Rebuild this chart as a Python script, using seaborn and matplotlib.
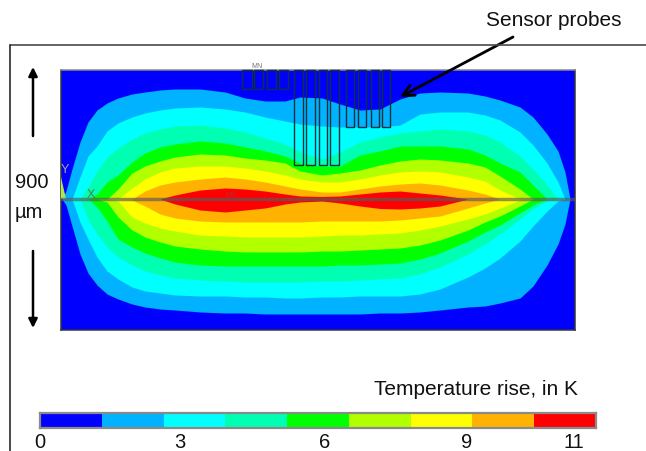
import matplotlib
matplotlib.use("Agg")
import matplotlib.pyplot as plt
import seaborn as sns
from matplotlib.colors import ListedColormap
from matplotlib.lines import Line2D

W, H = 646, 452

# isotherm positions, height above / below the centre line
STATIONS = [62, 66, 72, 80, 88, 97, 107, 118, 132, 145, 160, 175, 200, 225, 245, 265, 285, 300,
            322, 340, 360, 380, 400, 420, 440, 468, 485, 500, 520, 533, 547, 558, 565, 570, 574]

TOP_1 = [0, 8, 30, 57, 77, 89, 96, 101, 105, 107, 109, 110, 110, 107, 101, 98, 98, 102,
         101, 95, 89, 90, 100, 106, 107, 106, 103, 99, 92, 82, 65, 48, 27, 0, 0]
TOP_2 = [0, 0, 0, 22, 43, 53, 68, 76, 82, 86, 89, 91, 92, 90, 87, 82, 78, 75,
         73, 72, 72, 72, 74, 85, 87, 87, 84, 79, 67, 54, 36, 17, 0, 0, 0]
TOP_3 = [0, 0, 0, 0, 12, 28, 42, 51, 60, 66, 70, 73, 74, 71, 67, 61, 55, 47,
         40, 47, 57, 62, 66, 68, 70, 68, 64, 57, 43, 30, 14, 0, 0, 0, 0]
TOP_4 = [0, 0, 0, 0, 0, 5, 17, 24, 37, 46, 52, 55, 58, 56, 52, 48, 43, 36,
         33, 33, 44, 48, 53, 53, 53, 50, 44, 36, 27, 14, 0, 0, 0, 0, 0]
TOP_5 = [0, 0, 0, 0, 0, 0, 0, 10, 26, 33, 38, 42, 45, 44, 41, 39, 36, 28,
         24, 26, 29, 34, 38, 40, 39, 36, 32, 23, 10, 0, 0, 0, 0, 0, 0]
TOP_6 = [0, 0, 0, 0, 0, 0, 0, 0, 11, 20, 27, 31, 33, 33, 31, 28, 24, 20,
         17, 17, 20, 24, 27, 28, 27, 22, 18, 9, 0, 0, 0, 0, 0, 0, 0]
TOP_7 = [0, 0, 0, 0, 0, 0, 0, 0, 0, 8, 14, 17, 20, 22, 20, 17, 13, 10,
         7, 7, 10, 13, 15, 16, 14, 9, 5, 0, 0, 0, 0, 0, 0, 0, 0]
TOP_8 = [0, 0, 0, 0, 0, 0, 0, 0, 0, 0, 0, 4, 9, 11, 10, 8, 5, 3,
         2.5, 3, 5, 7, 8, 6, 4, 0, 0, 0, 0, 0, 0, 0, 0, 0, 0]

BOTTOM_1 = [0, 6, 27, 55, 74, 86, 95, 100, 105, 108, 110, 111, 113, 114, 114, 115, 115, 115,
            115, 115, 115, 114, 114, 113, 111, 108, 107, 104, 99, 87, 66, 45, 25, 0, 0]
BOTTOM_2 = [0, 0, 0, 23, 40, 58, 72, 80, 88, 92, 94, 96, 97, 97, 98, 98, 99, 99,
            98, 98, 97, 97, 97, 95, 90, 78, 69, 59, 42, 27, 12, 2, 0, 0, 0]
BOTTOM_3 = [0, 0, 0, 0, 20, 35, 48, 58, 66, 72, 76, 79, 81, 82, 83, 83, 83, 83,
            82, 82, 81, 80, 79, 75, 68, 55, 45, 35, 20, 10, 2, 0, 0, 0, 0]
BOTTOM_4 = [0, 0, 0, 0, 0, 8, 22, 40, 48, 54, 59, 63, 66, 67, 67, 67, 67, 67,
            67, 66, 66, 65, 64, 60, 54, 42, 33, 26, 14, 6, 0, 0, 0, 0, 0]
BOTTOM_5 = [0, 0, 0, 0, 0, 0, 3, 18, 31, 38, 43, 47, 50, 52, 53, 53, 53, 53,
            52, 52, 51, 50, 49, 46, 41, 31, 23, 17, 7, 0, 0, 0, 0, 0, 0]
BOTTOM_6 = [0, 0, 0, 0, 0, 0, 0, 2, 18, 24, 29, 32, 36, 37, 38, 38, 38, 38,
            37, 36, 36, 35, 34, 31, 27, 20, 15, 9, 1, 0, 0, 0, 0, 0, 0]
BOTTOM_7 = [0, 0, 0, 0, 0, 0, 0, 0, 1, 7, 15, 19, 22, 23, 23, 23, 23, 23,
            22, 22, 22, 22, 21, 19, 17, 9, 4, 0, 0, 0, 0, 0, 0, 0, 0]
BOTTOM_8 = [0, 0, 0, 0, 0, 0, 0, 0, 0, 0, 0, 5, 11, 13, 11, 9, 5, 3,
            2, 4, 7, 9.5, 10, 9, 7, 0, 0, 0, 0, 0, 0, 0, 0, 0, 0]

TOPS = [TOP_1, TOP_2, TOP_3, TOP_4, TOP_5, TOP_6, TOP_7, TOP_8]
BOTTOMS = [BOTTOM_1, BOTTOM_2, BOTTOM_3, BOTTOM_4, BOTTOM_5, BOTTOM_6, BOTTOM_7, BOTTOM_8]

BAND_COLORS = ["#0000ff", "#00b2ff", "#00ffff", "#00ffb2", "#00ff00",
               "#b2ff00", "#ffff00", "#ffb200", "#ff0000"]
BAND_INDEX = [[0, 1, 2, 3, 4, 5, 6, 7, 8]]
SCALE_LABELS = ["0", "3", "6", "9", "11"]
SCALE_TICKS = [0, 2.27, 4.6, 6.9, 8.64]

PROBE_X = [247, 258.5, 271.5, 283.5, 298.5, 310.5, 323, 334.5, 350, 362, 375, 386]
PROBE_WIDTH = [10, 9, 9, 9, 9, 9, 8, 9, 8, 8, 8, 8]
PROBE_END = [110.5, 110.5, 110.5, 110.5, 34, 34, 34, 34, 72, 72, 72, 72]
PLATE_TOP = 129.5


def frac(x, y):
    return x / W, 1 - y / H


sns.set_theme(style="white")
plt.rcParams["font.family"] = ["Liberation Sans", "DejaVu Sans"]

fig = plt.figure(figsize=(W / 100, H / 100), dpi=100, facecolor="white")

ax = fig.add_axes([61 / W, 1 - 331 / H, (575 - 61) / W, (331 - 70.5) / H])
ax.set_facecolor(BAND_COLORS[0])
ax.set_xlim(61, 575)
ax.set_ylim(-131, 129.5)
ax.set_xticks([])
ax.set_yticks([])
for i, (top, bottom) in enumerate(zip(TOPS, BOTTOMS)):
    ax.fill_between(STATIONS, top, [-v for v in bottom], color=BAND_COLORS[i + 1], lw=0)
for side in ax.spines.values():
    side.set_visible(True)
    side.set_color("#33383c")
    side.set_linewidth(1.1)
ax.spines["top"].set_color("#8a8a8a")

ax.bar(PROBE_X, [PLATE_TOP - e for e in PROBE_END], width=PROBE_WIDTH, bottom=PROBE_END,
       fill=False, edgecolor="#10303c", linewidth=1.0, clip_on=False, zorder=3)

# centre line and the small solver glyphs
ax.axhline(0, color="#5a5a5a", alpha=0.65, lw=2.5, zorder=4)
ax.fill([61, 61, 66], [0, 22, 0], color="#b2e84a", lw=0, zorder=3)
ax.text(65, 30, "Y", color="#a8a8a8", fontsize=9, ha="center", va="center", zorder=5)
ax.text(91, 5, "X", color="#55804a", fontsize=9, ha="center", va="center", zorder=5)
ax.text(231, 4, "MX", color="#b03030", fontsize=5, ha="center", va="center", zorder=5)
ax.text(257, 133, "MN", color="#707070", fontsize=5, ha="center", va="center",
        clip_on=False, zorder=5)

# picture frame
fig.add_artist(Line2D([9.5 / W, 1], [1 - 46 / H] * 2, color="#4a4a4a", lw=1.2))
fig.add_artist(Line2D([9.5 / W] * 2, [1 - 46 / H, 0], color="#2a2a2a", lw=1.2))

ax.annotate("", xy=frac(400, 98), xytext=frac(513, 38), xycoords="figure fraction",
            textcoords="figure fraction",
            arrowprops=dict(arrowstyle="->", color="black", lw=2, mutation_scale=20,
                            shrinkA=0, shrinkB=0), zorder=6)
ax.annotate("", xy=frac(33, 68), xytext=frac(33, 137), xycoords="figure fraction",
            textcoords="figure fraction",
            arrowprops=dict(arrowstyle="-|>", color="black", lw=1.8, mutation_scale=13,
                            shrinkA=0, shrinkB=0))
ax.annotate("", xy=frac(33, 329), xytext=frac(33, 252), xycoords="figure fraction",
            textcoords="figure fraction",
            arrowprops=dict(arrowstyle="-|>", color="black", lw=1.8, mutation_scale=13,
                            shrinkA=0, shrinkB=0))

fig.text(*frac(554, 20), "Sensor probes", fontsize=15, color="#111111", ha="center", va="center")
fig.text(*frac(476, 390), "Temperature rise, in K", fontsize=15, color="#111111",
         ha="center", va="center")
fig.text(*frac(15, 182), "900", fontsize=14.5, color="#111111", ha="left", va="center")
fig.text(*frac(15, 212), "µm", fontsize=14.5, color="#111111", ha="left", va="center")

# colour scale strip
cax = fig.add_axes([40 / W, 1 - 429 / H, (596 - 40) / W, 15 / H])
sns.heatmap(BAND_INDEX, ax=cax, cmap=ListedColormap(BAND_COLORS), cbar=False,
            xticklabels=False, yticklabels=False, linewidths=0)
for side in cax.spines.values():
    side.set_visible(True)
    side.set_color("#8a8a8a")
    side.set_linewidth(1.6)
cax.set_xticks(SCALE_TICKS)
cax.set_xticklabels(SCALE_LABELS, fontsize=14.5, color="#111111", rotation=0)
cax.tick_params(axis="x", length=0, pad=3)

plt.savefig("out.png", dpi=100)
plt.close()
